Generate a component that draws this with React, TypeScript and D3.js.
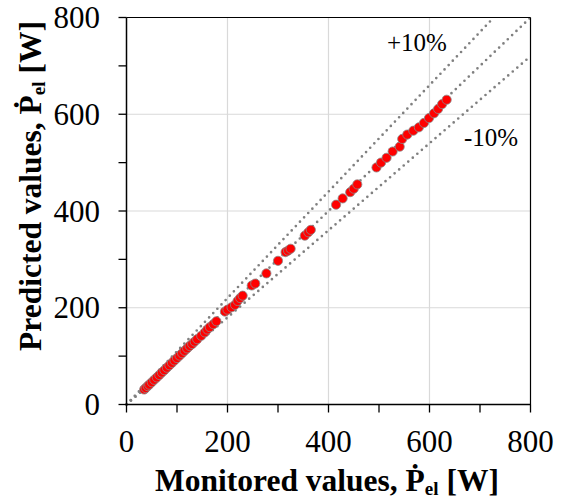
import React from "react";
import * as d3 from "d3";

const monitored = [35, 38, 42, 45, 50, 55, 60, 65, 70, 75, 80, 85, 90, 95, 100, 105, 110, 115, 120, 125, 130, 135, 140, 148, 155, 160, 165, 172, 178, 195, 200, 208, 215, 220, 225, 230, 248, 255, 277, 300, 315, 320, 325, 353, 360, 365, 415, 428, 443, 450, 457, 495, 504, 515, 527, 541, 546, 556, 568, 579, 589, 599, 609, 617, 625, 634];
const predicted = [31, 34, 38, 41, 46, 51, 56, 61, 66, 71, 76, 81, 86, 91, 96, 101, 106, 111, 116, 121, 125, 130, 135, 142, 149, 155, 160, 166, 172, 192, 196, 201, 206, 214, 220, 225, 246, 250, 271, 297, 315, 318, 322, 349, 356, 361, 413, 426, 439, 446, 455, 490, 500, 510, 523, 533, 549, 558, 566, 573, 582, 592, 602, 611, 621, 630];
const gridValues = [200, 400, 600];
const tickValues = [0, 100, 200, 300, 400, 500, 600, 700, 800];
const labelValues = [0, 200, 400, 600, 800];
const refLines = [
  { name: "+10%", factor: 1.1 },
  { name: "0%", factor: 1.0 },
  { name: "-10%", factor: 0.9 },
];

const W = 561;
const H = 501;
const left = 126.5;
const right = 530.5;
const top = 17.5;
const bottom = 404.5;
const FONT = "'Liberation Serif', 'Times New Roman', serif";

export default function App() {
  const x = d3.scaleLinear().domain([0, 800]).range([left, right]);
  const y = d3.scaleLinear().domain([0, 800]).range([bottom, top]);

  const refPath = (f: number) => {
    const xEnd = Math.min(800, 800 / f);
    return d3.line<[number, number]>()
      .x((d) => x(d[0]))
      .y((d) => y(d[1]))([[0, 0], [xEnd, xEnd * f]]) || "";
  };

  return (
    <svg width={W} height={H} style={{ position: "absolute", left: 0, top: 0, background: "#fff" }} fontFamily={FONT}>
      {gridValues.map((v) => (
        <g key={"g" + v}>
          <line x1={x(v)} x2={x(v)} y1={top} y2={bottom} stroke="#d9d9d9" strokeWidth={1.2} />
          <line x1={left} x2={right} y1={y(v)} y2={y(v)} stroke="#d9d9d9" strokeWidth={1.2} />
        </g>
      ))}
      {refLines.map((r) => (
        <path key={r.name} d={refPath(r.factor)} stroke="#808080" strokeWidth={2.7} strokeLinecap="round" strokeDasharray="0 6" fill="none" />
      ))}
      {monitored.map((m, i) => (
        <circle key={i} cx={x(m)} cy={y(predicted[i])} r={4.6} fill="#ff0000" stroke="#8a8a8a" strokeWidth={1} strokeOpacity={0.8} />
      ))}
      {/* frame */}
      <line x1={left} x2={right} y1={top} y2={top} stroke="#000" strokeWidth={1.2} />
      <line x1={right} x2={right} y1={top} y2={bottom} stroke="#000" strokeWidth={1.2} />
      <line x1={left} x2={right + 0.5} y1={bottom} y2={bottom} stroke="#000" strokeWidth={1.5} />
      <line x1={left} x2={left} y1={top} y2={bottom} stroke="#000" strokeWidth={1.5} />
      {tickValues.map((v) => (
        <g key={"t" + v}>
          <line x1={x(v)} x2={x(v)} y1={bottom} y2={bottom + 8} stroke="#000" strokeWidth={1.3} />
          <line x1={left - 8} x2={left} y1={y(v)} y2={y(v)} stroke="#000" strokeWidth={1.3} />
        </g>
      ))}
      {labelValues.map((v) => (
        <g key={"l" + v}>
          <text x={x(v)} y={452} textAnchor="middle" fontSize={31} fill="#000">{v}</text>
          <text x={100} y={y(v)} dy="0.34em" textAnchor="end" fontSize={31} fill="#000">{v}</text>
        </g>
      ))}
      <text x={387} y={51} fontSize={25} fill="#000">+10%</text>
      <text x={464} y={146} fontSize={25} fill="#000">-10%</text>
      <text x={327} y={491} textAnchor="middle" fontSize={31.5} fontWeight="bold" fill="#000">
        Monitored values, Ṗ<tspan fontSize={19} dy={4}>el</tspan><tspan dy={-4}> [W]</tspan>
      </text>
      <text transform="translate(41,186) rotate(-90)" textAnchor="middle" fontSize={31.5} fontWeight="bold" fill="#000">
        Predicted values, Ṗ<tspan fontSize={19} dy={4}>el</tspan><tspan dy={-4}> [W]</tspan>
      </text>
    </svg>
  );
}
